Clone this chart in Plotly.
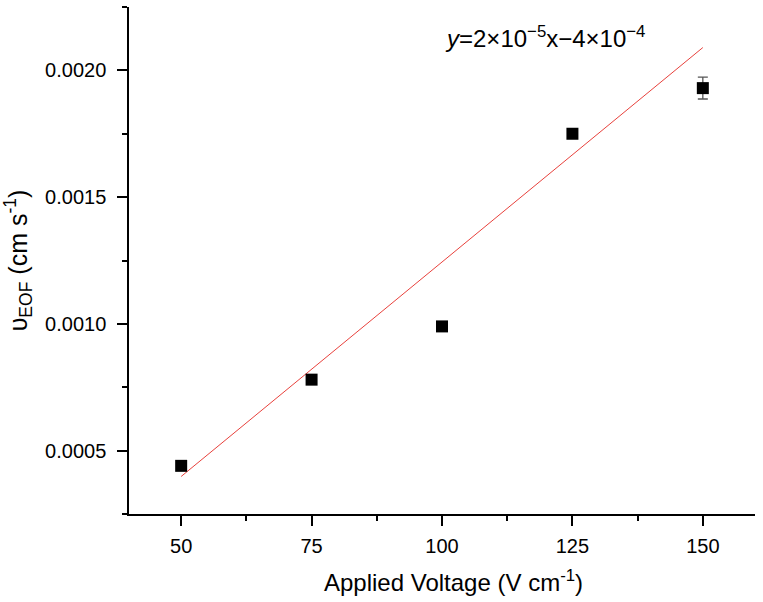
import plotly.graph_objects as go

voltage = [50, 75, 100, 125, 150]
velocity = [0.00044, 0.00078, 0.00099, 0.00175, 0.00193]
velocity_err = [0.000008, 0.000012, 0.000015, 0.000008, 0.000043]

fit_x = [50, 150]
fit_y = [0.000398, 0.00209]

x_ticks = [50, 75, 100, 125, 150]
y_ticks = [0.0005, 0.0010, 0.0015, 0.0020]

FONT = "Arial, Liberation Sans, sans-serif"

fig = go.Figure()
fig.add_trace(go.Scatter(
    x=fit_x, y=fit_y, mode="lines",
    line=dict(color="#e8413c", width=1), showlegend=False, hoverinfo="skip"))
fig.add_trace(go.Scatter(
    x=voltage, y=velocity, mode="markers",
    marker=dict(symbol="square", size=12, color="black"),
    error_y=dict(type="data", array=velocity_err, visible=True,
                 color="#555555", thickness=1.3, width=5),
    showlegend=False))

fig.add_annotation(
    x=0.502, y=0.941, xref="paper", yref="paper",
    xanchor="left", yanchor="middle",
    text="<i>y</i>=2×10<sup>−5</sup>x−4×10<sup>−4</sup>",
    showarrow=False, font=dict(family=FONT, size=24, color="black"))

# x-axis title (as annotation, screen y ≈ 581 with plot spanning y 7..514)
fig.add_annotation(
    x=0.518, y=(514 - 581) / (514 - 7), xref="paper", yref="paper",
    text="Applied Voltage (V cm<sup>-1</sup>)",
    showarrow=False, font=dict(family=FONT, size=24, color="black"),
    xanchor="center", yanchor="middle")

axis_common = dict(
    showline=True, linecolor="black", linewidth=1.5, mirror=False,
    ticks="outside", ticklen=10, tickwidth=1.5, tickcolor="black",
    showgrid=False, zeroline=False, automargin=False,
    tickfont=dict(family=FONT, size=20, color="black"),
)

fig.update_xaxes(
    range=[40, 160], tickmode="array", tickvals=x_ticks,
    ticklabelstandoff=3,
    minor=dict(ticks="outside", ticklen=5, tickwidth=1.5, tickcolor="black",
               tickmode="linear", tick0=50, dtick=12.5),
    **axis_common)
fig.update_yaxes(
    range=[0.00025, 0.00225], tickmode="array", tickvals=y_ticks,
    tickformat=".4f", ticklabelstandoff=7,
    minor=dict(ticks="outside", ticklen=5, tickwidth=1.5, tickcolor="black",
               tickmode="linear", tick0=0, dtick=0.00025),
    title=dict(text="υ<sub>EOF</sub> (cm s<sup>-1</sup>)",
               font=dict(family=FONT, size=25, color="black"), standoff=17),
    **axis_common)

fig.update_layout(
    width=763, height=602,
    margin=dict(l=129, r=8, t=7, b=88),
    plot_bgcolor="white", paper_bgcolor="white",
)

fig.write_html("out.html", config={"displayModeBar": False},
               post_script="document.body.style.margin='0';")
